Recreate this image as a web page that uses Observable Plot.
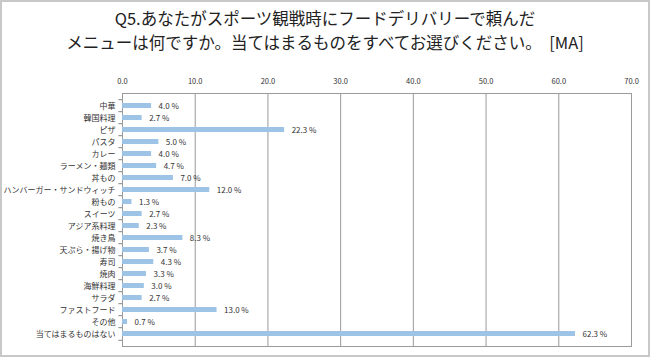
<!DOCTYPE html>
<html>
<head>
<meta charset="utf-8">
<script src="https://cdn.jsdelivr.net/npm/d3@7"></script>
<script src="https://cdn.jsdelivr.net/npm/@observablehq/plot@0.6"></script>
<style>
  html, body { margin: 0; padding: 0; background: #fff; }
  #wrap { position: relative; width: 650px; height: 357px; box-sizing: border-box; border: 2px solid #c8c8c8; overflow: hidden; font-family: "Noto Sans CJK JP", sans-serif; }
  #title { height: 56px; box-sizing: border-box; padding-top: 4px; text-align: center; font-size: 16.5px; line-height: 24px; color: #222; }
  #chart svg { display: block; }
</style>
</head>
<body>
<div id="wrap">
  <div id="title">Q5.あなたがスポーツ観戦時にフードデリバリーで頼んだ<br>メニューは何ですか。当てはまるものをすべてお選びください。&nbsp;&nbsp;[MA]</div>
  <div id="chart"></div>
</div>
<script>
const categories = ["中華","韓国料理","ピザ","パスタ","カレー","ラーメン・麺類","丼もの","ハンバーガー・サンドウィッチ","粉もの","スイーツ","アジア系料理","焼き鳥","天ぷら・揚げ物","寿司","焼肉","海鮮料理","サラダ","ファストフード","その他","当てはまるものはない"];
const values = [4.0,2.7,22.3,5.0,4.0,4.7,7.0,12.0,1.3,2.7,2.3,8.3,3.7,4.3,3.3,3.0,2.7,13.0,0.7,62.3];
const xTicks = [0,10,20,30,40,50,60,70];

const data = categories.map((c, i) => ({category: c, value: values[i]}));
const svgH = 297, mTop = 35, mBottom = 9;
const step = (svgH - mTop - mBottom) / categories.length;

const chart = Plot.plot({
  width: 646,
  height: svgH,
  marginTop: mTop,
  marginBottom: mBottom,
  marginLeft: 120,
  marginRight: 17,
  style: {fontFamily: "'Noto Sans CJK JP', sans-serif", fontSize: "8px", color: "#333", background: "#fff"},
  x: {domain: [0, 70], ticks: xTicks, tickFormat: d3.format(".1f"), axis: null},
  y: {domain: categories, padding: 0.55, axis: null},
  marks: [
    Plot.ruleX(xTicks, {stroke: "#9a9a9a", strokeWidth: 1}),
    Plot.frame({stroke: "#9a9a9a"}),
    Plot.barX(data, {x: "value", y: "category", fill: "#9dc3e6"}),
    Plot.axisX({anchor: "top", ticks: xTicks, tickFormat: d3.format(".1f"), tickSize: 0, tickPadding: 10, fontSize: 7.5, fill: "#333", label: null}),
    Plot.axisY({anchor: "left", tickSize: 0, tickPadding: 7, fontSize: 8, fill: "#333", label: null}),
    Plot.ruleY(categories, {y: d => d, x1: -0.5, x2: 0, dy: -step / 2, stroke: "#888"}),
    Plot.ruleY([categories[categories.length - 1]], {y: d => d, x1: -0.5, x2: 0, dy: step / 2, stroke: "#888"}),
    Plot.text(data, {x: "value", y: "category", text: d => d.value.toFixed(1) + " %", dx: 7, textAnchor: "start", fontSize: 8, fill: "#333"})
  ]
});
document.getElementById("chart").appendChild(chart);
</script>
</body>
</html>
